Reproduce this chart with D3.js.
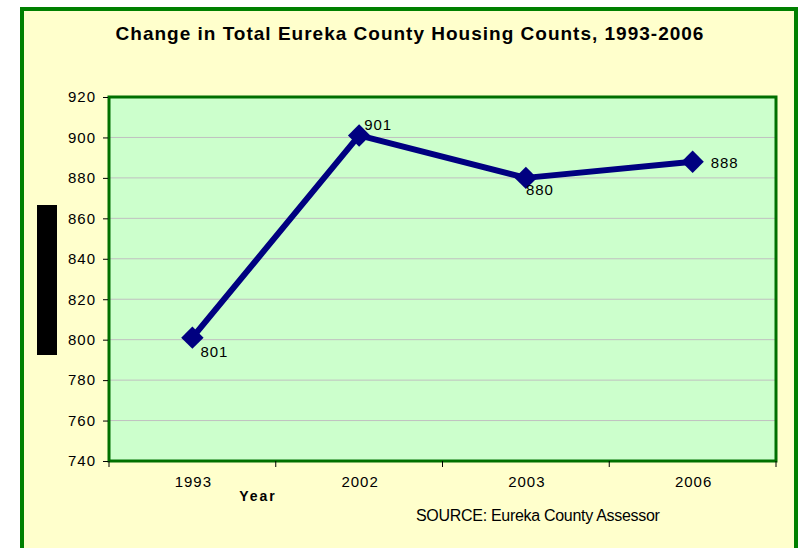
<!DOCTYPE html>
<html>
<head>
<meta charset="utf-8">
<script src="https://cdn.jsdelivr.net/npm/d3@7"></script>
<style>
  body { margin: 0; background: #ffffff; }
  text { font-family: "Liberation Sans", Arial, sans-serif; }
</style>
</head>
<body>
<div id="chart"></div>
<script>
var years = ["1993", "2002", "2003", "2006"];
var housingCounts = [801, 901, 880, 888];
var yTicks = [740, 760, 780, 800, 820, 840, 860, 880, 900, 920];

var width = 800, height = 548;
var plot = { left: 109, top: 97, right: 776, bottom: 461 };

var svg = d3.select("#chart")
    .append("svg")
    .attr("width", width)
    .attr("height", height);

// outer frame
svg.append("rect")
    .attr("x", 22).attr("y", 9)
    .attr("width", 774).attr("height", 560)
    .attr("fill", "#ffffcc")
    .attr("stroke", "#008000")
    .attr("stroke-width", 4);

svg.append("text")
    .attr("x", 410).attr("y", 40)
    .attr("text-anchor", "middle")
    .attr("font-size", 19)
    .attr("font-weight", "bold")
    .attr("letter-spacing", 1)
    .text("Change in Total Eureka County Housing Counts, 1993-2006");

var x = d3.scaleBand()
    .domain(years)
    .range([plot.left, plot.right]);

var y = d3.scaleLinear()
    .domain([740, 920])
    .range([plot.bottom, plot.top]);

// plot area
svg.append("rect")
    .attr("x", plot.left).attr("y", plot.top)
    .attr("width", plot.right - plot.left)
    .attr("height", plot.bottom - plot.top)
    .attr("fill", "#ccffcc");

svg.append("g")
    .selectAll("line")
    .data(yTicks.slice(1, -1))
    .enter().append("line")
    .attr("x1", plot.left).attr("x2", plot.right)
    .attr("y1", function (d) { return y(d); })
    .attr("y2", function (d) { return y(d); })
    .attr("stroke", "#c0c0c0")
    .attr("stroke-width", 1);

svg.append("rect")
    .attr("x", plot.left).attr("y", plot.top)
    .attr("width", plot.right - plot.left)
    .attr("height", plot.bottom - plot.top)
    .attr("fill", "none")
    .attr("stroke", "#007000")
    .attr("stroke-width", 3);

// y axis
var yAxis = svg.append("g")
    .attr("transform", "translate(" + (plot.left - 1) + ",0)")
    .call(d3.axisLeft(y).tickValues(yTicks).tickSize(5).tickPadding(7));
yAxis.select(".domain").remove();
yAxis.selectAll("line").attr("stroke", "#000");
yAxis.selectAll("text")
    .attr("font-size", 15)
    .attr("letter-spacing", 1)
    .attr("fill", "#000")
    .attr("font-family", "Liberation Sans, Arial, sans-serif");

// x axis: ticks at band edges
var edges = years.map(function (d) { return x(d); }).concat([plot.right]);
svg.append("g")
    .selectAll("line")
    .data(edges)
    .enter().append("line")
    .attr("x1", function (d) { return d; })
    .attr("x2", function (d) { return d; })
    .attr("y1", plot.bottom)
    .attr("y2", plot.bottom + 6)
    .attr("stroke", "#000");

svg.append("g")
    .selectAll("text")
    .data(years)
    .enter().append("text")
    .attr("x", function (d) { return x(d) + x.bandwidth() / 2 + 1; })
    .attr("y", 487)
    .attr("text-anchor", "middle")
    .attr("font-size", 15)
    .attr("letter-spacing", 1)
    .text(function (d) { return d; });

// y axis title box
svg.append("rect")
    .attr("x", 37).attr("y", 205)
    .attr("width", 20).attr("height", 150)
    .attr("fill", "#000");

svg.append("text")
    .attr("x", 258).attr("y", 501)
    .attr("text-anchor", "middle")
    .attr("font-size", 14)
    .attr("font-weight", "bold")
    .attr("letter-spacing", 2)
    .text("Year");

svg.append("text")
    .attr("x", 416).attr("y", 521)
    .attr("font-size", 16)
    .attr("letter-spacing", -0.3)
    .text("SOURCE: Eureka County Assessor");

// series
var points = years.map(function (d, i) {
    return { year: d, value: housingCounts[i] };
});

var line = d3.line()
    .x(function (d) { return x(d.year) + x.bandwidth() / 2; })
    .y(function (d) { return y(d.value); });

svg.append("path")
    .datum(points)
    .attr("d", line)
    .attr("fill", "none")
    .attr("stroke", "#000080")
    .attr("stroke-width", 6)
    .attr("stroke-linejoin", "round");

svg.append("g")
    .selectAll("path")
    .data(points)
    .enter().append("path")
    .attr("d", d3.symbol().type(d3.symbolDiamond2).size(320))
    .attr("transform", function (d) {
        return "translate(" + (x(d.year) + x.bandwidth() / 2) + "," + y(d.value) + ")";
    })
    .attr("fill", "#000080");

// value labels
var labelOffsets = [[8, 19], [5, -5], [0, 17], [18, 6]];
svg.append("g")
    .selectAll("text")
    .data(points)
    .enter().append("text")
    .attr("x", function (d, i) { return x(d.year) + x.bandwidth() / 2 + labelOffsets[i][0]; })
    .attr("y", function (d, i) { return y(d.value) + labelOffsets[i][1]; })
    .attr("font-size", 15)
    .attr("letter-spacing", 1)
    .text(function (d) { return d.value; });
</script>
</body>
</html>
